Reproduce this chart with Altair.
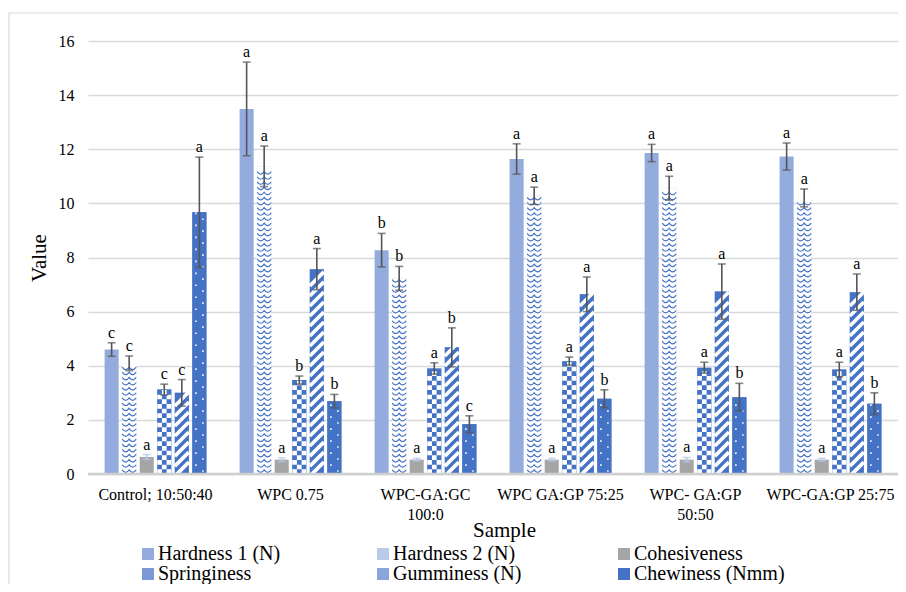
import altair as alt
import pandas as pd

FONT = "Liberation Serif"

samples = ["Control; 10:50:40", "WPC 0.75", "WPC-GA:GC\n100:0", "WPC GA:GP 75:25",
           "WPC- GA:GP\n50:50", "WPC-GA:GP 25:75"]
series = ["Hardness 1 (N)", "Hardness 2 (N)", "Cohesiveness", "Springiness",
          "Gumminess (N)", "Chewiness (Nmm)"]

hardness1 = [4.60, 13.49, 8.27, 11.64, 11.86, 11.73]
hardness1_err = [0.25, 1.73, 0.62, 0.56, 0.32, 0.50]
hardness1_let = ["c", "a", "b", "a", "a", "a"]

hardness2 = [4.09, 11.37, 7.23, 10.28, 10.56, 10.20]
hardness2_err = [0.27, 0.75, 0.44, 0.32, 0.44, 0.33]
hardness2_let = ["c", "a", "b", "a", "a", "a"]

cohesiveness = [0.63, 0.53, 0.53, 0.53, 0.53, 0.53]
cohesiveness_err = [0.09, 0.07, 0.05, 0.05, 0.08, 0.05]
cohesiveness_let = ["a", "a", "a", "a", "a", "a"]

springiness = [3.12, 3.47, 3.90, 4.17, 3.93, 3.86]
springiness_err = [0.20, 0.15, 0.21, 0.15, 0.20, 0.27]
springiness_let = ["c", "b", "a", "a", "a", "a"]

gumminess = [3.00, 7.57, 4.68, 6.64, 6.74, 6.72]
gumminess_err = [0.49, 0.76, 0.72, 0.64, 1.02, 0.67]
gumminess_let = ["c", "a", "b", "a", "a", "a"]

chewiness = [9.67, 2.69, 1.84, 2.78, 2.84, 2.60]
chewiness_err = [2.04, 0.25, 0.31, 0.33, 0.51, 0.40]
chewiness_let = ["a", "b", "c", "b", "b", "b"]

values = [hardness1, hardness2, cohesiveness, springiness, gumminess, chewiness]
errors = [hardness1_err, hardness2_err, cohesiveness_err, springiness_err, gumminess_err, chewiness_err]
letters = [hardness1_let, hardness2_let, cohesiveness_let, springiness_let, gumminess_let, chewiness_let]

rows = []
for s, vals, errs, lets in zip(series, values, errors, letters):
    for smp, v, e, l in zip(samples, vals, errs, lets):
        rows.append({"Sample": smp, "Series": s, "value": v, "err": e, "letter": l})
df = pd.DataFrame(rows)

BLUE = "#4472c4"
legend_fill = ["#93acdd", "#b8c9ea", "#a5a5a5", "#7a98d4", "#8aa5da", BLUE]

xaxis = alt.Axis(title="Sample", labelAngle=0, labelExpr="split(datum.label, '\\n')",
                 labelFont=FONT, labelFontSize=16, labelColor="#000000", labelPadding=12,
                 labelLineHeight=20, domain=False, ticks=False, grid=False,
                 titleFont=FONT, titleFontSize=21, titleFontWeight="normal", titleColor="#000000",
                 titleX=416, titleY=56, titleBaseline="middle", titleAlign="center")
yaxis = alt.Axis(title="Value", grid=True, gridColor="#d9d9d9", gridWidth=1.5, domain=False,
                 ticks=False, labelPadding=14, labelFont=FONT, labelFontSize=16,
                 labelColor="#000000", tickCount=8,
                 titleFont=FONT, titleFontSize=21, titleFontWeight="normal", titleColor="#000000",
                 titleAngle=270, titleX=-49, titleY=216.5, titleBaseline="middle", titleAlign="center")

xscale = alt.Scale(domain=samples, paddingInner=0.22, paddingOuter=0.11)
oscale = alt.Scale(domain=series, paddingInner=0.2, paddingOuter=0.1)
yscale = alt.Scale(domain=[0, 16], nice=False)


def X():
    return alt.X("Sample:N", sort=samples, scale=xscale, axis=xaxis, title="Sample")


def XO():
    return alt.XOffset("Series:N", sort=series, scale=oscale)


def Y(field):
    return alt.Y(field + ":Q", scale=yscale, axis=yaxis, title="Value")


base = alt.Chart(df)

frame = alt.Chart(pd.DataFrame({"k": [0]})).mark_rect(
    fillOpacity=0, stroke="#d9d9d9", strokeWidth=1.2
).encode(x=alt.value(-79), x2=alt.value(950), y=alt.value(-28), y2=alt.value(700))

# bars carrying the legend (legend swatch colours)
bars = base.mark_bar().encode(
    x=X(), xOffset=XO(), y=Y("value"),
    color=alt.Color(
        "Series:N", sort=series, scale=alt.Scale(domain=series, range=legend_fill),
        legend=alt.Legend(
            title=None, orient="none", legendX=50, legendY=503, direction="horizontal",
            columns=3, symbolType="square", symbolSize=144, symbolStrokeWidth=0,
            labelFont=FONT, labelFontSize=20, labelColor="#000000",
            labelOffset=0, columnPadding=92, rowPadding=0, padding=0, labelLimit=300,
        ),
    ),
)

# base fills for the patterned series
patterned = ["Hardness 2 (N)", "Springiness", "Gumminess (N)", "Chewiness (Nmm)"]
bars_base = base.transform_filter(
    alt.FieldOneOfPredicate(field="Series", oneOf=patterned)
).mark_bar().encode(
    x=X(), xOffset=XO(), y=Y("value"),
    color=alt.condition(alt.datum.Series == "Hardness 2 (N)", alt.value("#ffffff"), alt.value(BLUE)),
)

wave_path = "M-1,-0.2Q-0.5,0.5,0,-0.2Q0.5,0.5,1,-0.2"
checker_path = ("M-0.333,-0.667H0.333V0H-0.333Z"
                "M-1,0H-0.333V0.667H-1Z"
                "M0.333,0H1V0.667H0.333Z")
stripe_path = "M-1,1L1,-1"
dot_path = "M-0.62,-0.54H-0.38V-0.3H-0.62Z M0.38,0.3H0.62V0.54H0.38Z"

tex_h2 = base.transform_filter(alt.datum.Series == "Hardness 2 (N)").transform_calculate(
    seq="sequence(0.1, datum.value - 0.06, 0.19)"
).transform_flatten(["seq"]).mark_point(
    shape=wave_path, size=196, filled=False, color=BLUE, strokeWidth=1.2, opacity=1
).encode(x=X(), xOffset=XO(), y=Y("seq"))

tex_spr = base.transform_filter(alt.datum.Series == "Springiness").transform_calculate(
    seq="sequence(0.1725, datum.value, 0.345)"
).transform_flatten(["seq"]).mark_point(
    shape=checker_path, size=196, filled=True, color="#ffffff", strokeWidth=0, opacity=1
).encode(x=X(), xOffset=XO(), y=Y("seq"))

tex_gum = base.transform_filter(alt.datum.Series == "Gumminess (N)").transform_calculate(
    seq="sequence(0.18, datum.value, 0.37)"
).transform_flatten(["seq"]).mark_point(
    shape=stripe_path, size=196, filled=False, color="#ffffff", strokeWidth=3.6, opacity=1
).encode(x=X(), xOffset=XO(), y=Y("seq"))

tex_chew = base.transform_filter(alt.datum.Series == "Chewiness (Nmm)").transform_calculate(
    seq="sequence(0.22, datum.value, 0.443)"
).transform_flatten(["seq"]).mark_point(
    shape=dot_path, size=196, filled=True, color="#ffffff", strokeWidth=0, opacity=0.9
).encode(x=X(), xOffset=XO(), y=Y("seq"))

err_base = base.transform_calculate(lo="datum.value - datum.err", hi="datum.value + datum.err")
err_color = alt.condition(alt.datum.Series == "Cohesiveness", alt.value("#b4c7e7"), alt.value("#555555"))

err_rule = err_base.mark_rule(strokeWidth=1.6).encode(
    x=X(), xOffset=XO(), y=Y("lo"), y2="hi:Q", color=err_color
)
err_lo = err_base.mark_tick(size=8, thickness=1.6).encode(
    x=X(), xOffset=XO(), y=Y("lo"), color=err_color
)
err_hi = err_base.mark_tick(size=8, thickness=1.6).encode(
    x=X(), xOffset=XO(), y=Y("hi"), color=err_color
)

labels = err_base.mark_text(
    dy=-5, baseline="alphabetic", font=FONT, fontSize=16, color="#000000"
).encode(x=X(), xOffset=XO(), y=Y("hi"), text="letter:N")

zero = alt.Chart(pd.DataFrame({"z": [0]})).mark_rule(color="#cfcfcf", strokeWidth=2.5).encode(
    y=alt.Y("z:Q", scale=yscale, axis=yaxis, title="Value")
)

chart = alt.layer(
    frame, bars, bars_base, tex_h2, tex_spr, tex_gum, tex_chew, err_rule, err_lo, err_hi,
    labels, zero
).properties(
    width=810, height=433,
    autosize=alt.AutoSizeParams(type="none"),
    padding={"left": 80, "top": 33, "right": 0, "bottom": 110},
).configure_view(stroke=None)

chart.save("out.html", embed_options={"renderer": "svg", "actions": False})
